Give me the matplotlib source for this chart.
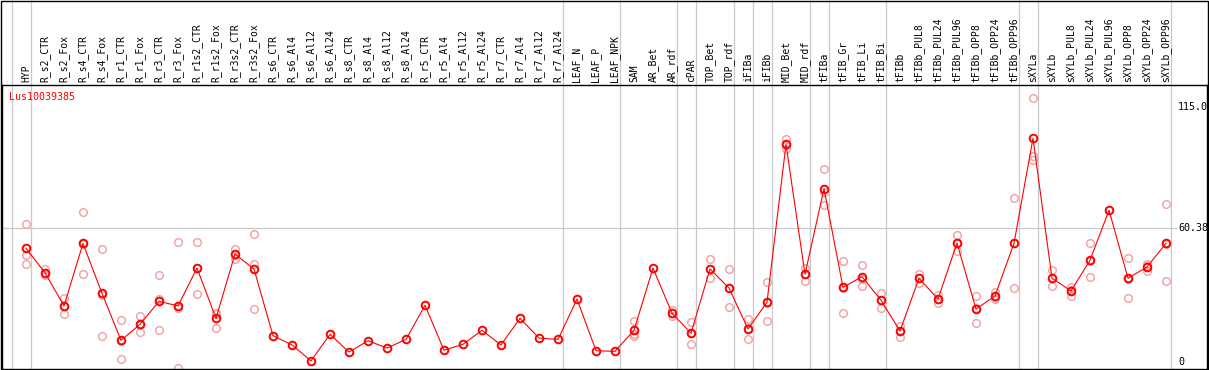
import numpy as np
import matplotlib
matplotlib.use("Agg")
import matplotlib.pyplot as plt
from matplotlib.transforms import blended_transform_factory
from matplotlib.patches import Rectangle

# Sample names (columns)
samples = ["HYP", "R_s2_CTR", "R_s2_Fox", "R_s4_CTR", "R_s4_Fox", "R_r1_CTR", "R_r1_Fox",
           "R_r3_CTR", "R_r3_Fox", "R_r1s2_CTR", "R_r1s2_Fox", "R_r3s2_CTR", "R_r3s2_Fox",
           "R_s6_CTR", "R_s6_Al4", "R_s6_Al12", "R_s6_Al24", "R_s8_CTR", "R_s8_Al4",
           "R_s8_Al12", "R_s8_Al24", "R_r5_CTR", "R_r5_Al4", "R_r5_Al12", "R_r5_Al24",
           "R_r7_CTR", "R_r7_Al4", "R_r7_Al12", "R_r7_Al24", "LEAF_N", "LEAF_P", "LEAF_NPK",
           "SAM", "AR_Bet", "AR_rdf", "cPAR", "TOP_Bet", "TOP_rdf", "iFIBa", "iFIBb",
           "MID_Bet", "MID_rdf", "tFIBa", "tFIB_Gr", "tFIB_Li", "tFIB_Bi", "tFIBb",
           "tFIBb_PUL8", "tFIBb_PUL24", "tFIBb_PUL96", "tFIBb_OPP8", "tFIBb_OPP24",
           "tFIBb_OPP96", "sXYLa", "sXYLb", "sXYLb_PUL8", "sXYLb_PUL24", "sXYLb_PUL96",
           "sXYLb_OPP8", "sXYLb_OPP24", "sXYLb_OPP96"]

# Mean expression per sample
means = [51.3, 40.3, 25.3, 53.5, 31.0, 9.8, 17.0, 27.4, 25.3, 42.4,
         19.7, 48.8, 41.9, 11.9, 7.7, 0.5, 12.5, 4.5, 9.6, 6.3,
         10.2, 25.6, 5.3, 8.0, 14.3, 7.7, 19.7, 10.8, 10.2, 28.4,
         5.1, 4.8, 14.3, 42.4, 22.0, 13.0, 42.0, 33.4, 14.9, 27.0,
         98.3, 39.6, 78.2, 33.7, 38.5, 27.9, 14.0, 37.8, 28.4, 53.7,
         23.9, 29.8, 53.6, 101.0, 37.8, 32.1, 45.9, 68.5, 37.8, 42.9,
         53.6]

# Replicate values (empty where only one value is shown)
replicates = [
    [62.2, 48.3, 44.1], [41.8, 40.0, 39.2], [29.0, 25.4, 21.5], [67.7, 53.2, 39.6],
    [51.0, 30.3, 11.7], [18.8, 9.4, 1.2], [20.8, 16.5, 13.7], [39.4, 28.5, 14.3],
    [54.0, 24.4, -2.5], [54.0, 42.6, 30.6], [22.0, 21.5, 15.5], [51.2, 48.5, 46.7],
    [57.6, 44.1, 24.0],
    [], [], [], [], [], [], [], [], [], [], [], [], [], [], [], [], [], [], [],
    [18.4, 12.6, 11.6], [], [23.3, 22.0, 20.8], [17.9, 13.1, 8.0],
    [46.4, 41.8, 37.8], [42.0, 33.4, 24.8], [19.3, 15.2, 10.2], [36.0, 26.6, 18.4],
    [100.7, 98.0, 96.2], [42.6, 39.8, 36.4], [87.0, 76.9, 70.7], [45.6, 33.2, 22.3],
    [43.7, 37.6, 34.2], [31.0, 28.2, 24.5], [16.4, 14.2, 11.4], [39.9, 37.7, 35.8],
    [30.2, 28.5, 26.5], [57.2, 53.6, 50.3], [29.7, 24.4, 17.6], [31.5, 29.5, 28.4],
    [73.9, 53.6, 33.3], [119.1, 93.0, 91.2], [41.4, 37.7, 34.3], [34.0, 32.4, 29.9],
    [53.7, 45.8, 38.2], [], [47.0, 37.6, 28.8], [44.2, 43.3, 41.2], [71.3, 53.1, 36.4],
]

gene = "Lus10039385"
y_ticks = [0, 60.38, 115.0]
y_tick_labels = ["0", "60.38", "115.0"]
# group boundaries come right after these columns
group_ends = [-1, 0, 28, 31, 34, 35, 37, 38, 39, 41, 42, 45, 52, 53, 60]

W, H = 1209, 370
fig = plt.figure(figsize=(W / 100, H / 100), dpi=100)
# plot box in pixels: left 2, right 1207, top 85, bottom 369
ax = fig.add_axes([2 / W, 1 - 369 / H, 1205 / W, 284 / H])

x = np.arange(len(samples))
ax.set_xlim(-24 / 19, 1181 / 19)
ax.set_ylim(-7 / 2.215, 277 / 2.215)

grid_col = "#c8c8c8"
for g in group_ends:
    ax.axvline(g + 0.24, ymin=0, ymax=1 + 85 / 284, color=grid_col, lw=0.9,
               clip_on=False, zorder=1)
ax.hlines(y_ticks[1], -24 / 19, 60.58, color=grid_col, lw=0.9, zorder=1)

# replicates
rx = [i for i, r in enumerate(replicates) for v in r]
ry = [v for r in replicates for v in r]
ax.plot(rx, ry, "o", ms=5.5, mfc="none", mec="#f0a0a0", mew=1.0, zorder=2)

# mean line
ax.plot(x, means, "-", color="#ff0000", lw=0.8, zorder=3)
ax.plot(x, means, "o", ms=5.5, mfc="none", mec="#ff0000", mew=1.4, zorder=4)

# sample names on top
ax.set_xticks(x)
ax.set_xticklabels(samples, family="DejaVu Sans Mono", fontsize=7)
ax.xaxis.tick_top()
ax.tick_params(axis="x", length=0, pad=2, labelrotation=90)
ax.set_yticks([])

for s in ax.spines.values():
    s.set_color("black")
    s.set_linewidth(1.0)

trans = blended_transform_factory(fig.transFigure, ax.transData)
for v, lab in zip(y_ticks, y_tick_labels):
    fig.text(1178 / W, v, lab, transform=trans, ha="left", va="center",
             family="DejaVu Sans Mono", fontsize=7.2)

fig.text(9 / W, 1 - 97 / H, gene, color="#ff0000", ha="left", va="center",
         family="DejaVu Sans Mono", fontsize=7.2)

# outer frame
fig.patches.append(Rectangle((0.5 / W, 0.5 / H), 1 - 2 / W, 1 - 1.5 / H,
                             transform=fig.transFigure, fill=False,
                             edgecolor="black", lw=1.0))

fig.savefig("out.png", dpi=100)
